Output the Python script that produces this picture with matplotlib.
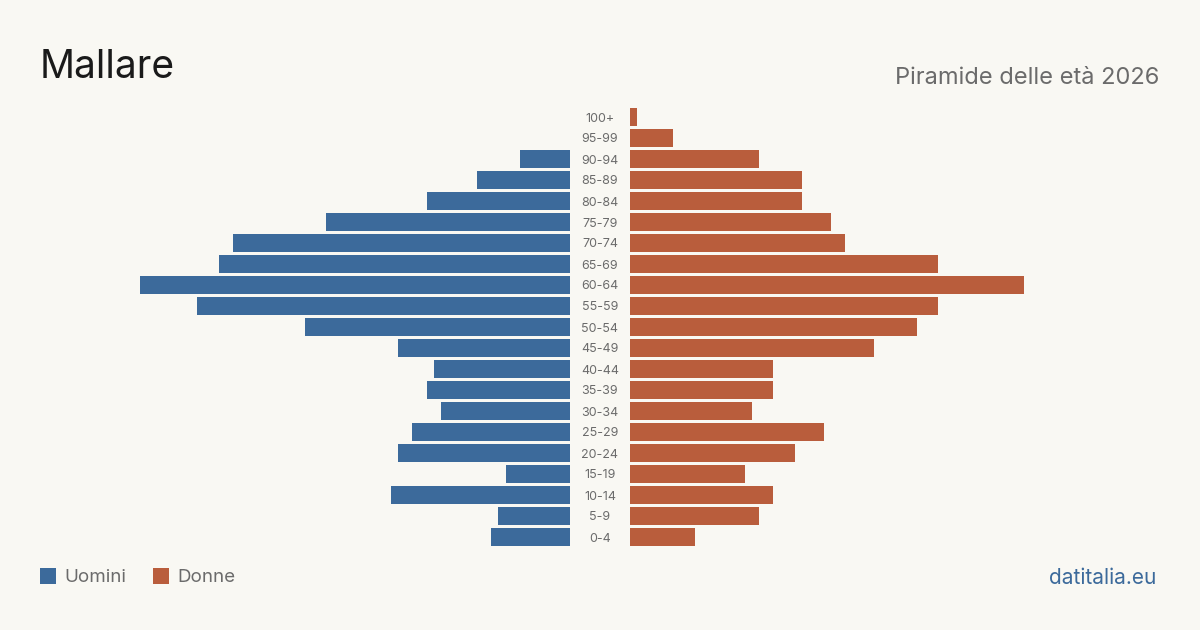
import matplotlib.pyplot as plt
from matplotlib.patches import Rectangle

age_groups = ["0-4", "5-9", "10-14", "15-19", "20-24", "25-29", "30-34", "35-39",
              "40-44", "45-49", "50-54", "55-59", "60-64", "65-69", "70-74", "75-79",
              "80-84", "85-89", "90-94", "95-99", "100+"]
men = [11, 10, 25, 9, 24, 22, 18, 20, 19, 24, 37, 52, 60, 49, 47, 34, 20, 13, 7, 0, 0]
women = [9, 18, 20, 16, 23, 27, 17, 20, 20, 34, 40, 43, 55, 43, 30, 28, 24, 24, 18, 6, 1]

BG = "#f9f8f3"
BLUE = "#3c6a9b"
ORANGE = "#b95d3c"
GRAY = "#6b6b6b"

plt.rcParams['font.family'] = ['Inter', 'DejaVu Sans']

W, H = 1200, 630
fig = plt.figure(figsize=(W / 100, H / 100), dpi=100, facecolor=BG)

vmax = max(max(men), max(women))
top, bottom = 106.5, 547.5
axL = fig.add_axes([140 / W, 1 - bottom / H, 430 / W, (bottom - top) / H])
axR = fig.add_axes([630 / W, 1 - bottom / H, 430 / W, (bottom - top) / H])

y = list(range(len(age_groups)))
axL.barh(y, men, height=0.81, color=BLUE)
axR.barh(y, women, height=0.81, color=ORANGE)
axL.set_xlim(vmax, 0)
axR.set_xlim(0, vmax)
for ax in (axL, axR):
    ax.set_ylim(-0.5, len(age_groups) - 0.5)
    ax.axis('off')
    ax.set_facecolor('none')

for i, lab in enumerate(age_groups):
    yy = bottom - (i + 0.5) * (bottom - top) / len(age_groups) + 1.5
    fig.text(600 / W, 1 - yy / H, lab, ha='center', va='center', fontsize=9, color=GRAY)

fig.text(40 / W, 1 - 68 / H, "Mallare", fontsize=28, color="#1a1a1a", va='center', ha='left')
fig.text(1159 / W, 1 - 78 / H, "Piramide delle età 2026", fontsize=17, color=GRAY, va='center', ha='right')

fig.patches.append(Rectangle((40 / W, 1 - 584 / H), 16 / W, 16 / H, transform=fig.transFigure,
                             facecolor=BLUE, edgecolor='none'))
fig.text(64 / W, 1 - 577.5 / H, "Uomini", fontsize=13.5, color=GRAY, va='center', ha='left')
fig.patches.append(Rectangle((153 / W, 1 - 584 / H), 16 / W, 16 / H, transform=fig.transFigure,
                             facecolor=ORANGE, edgecolor='none'))
fig.text(177 / W, 1 - 577.5 / H, "Donne", fontsize=13.5, color=GRAY, va='center', ha='left')

fig.text(1156 / W, 1 - 577.5 / H, "datitalia.eu", fontsize=15, color=BLUE, va='center', ha='right')

fig.savefig("out.png", dpi=100, facecolor=BG)
